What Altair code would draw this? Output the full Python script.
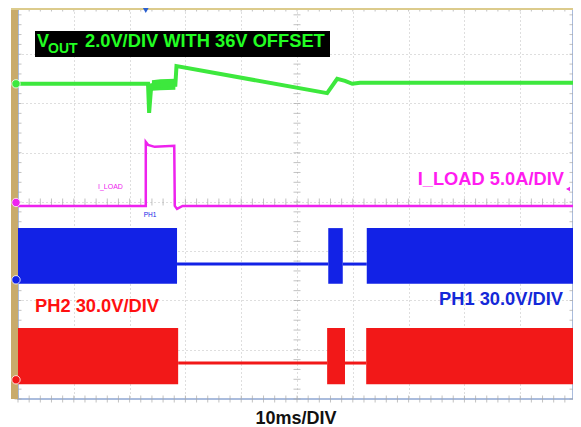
import altair as alt
import pandas as pd

# ---- data (time in ms, 10 ms/div; vertical position in screen divisions 0..8) ----
vout_t = [0, 23.3, 23.5, 23.8, 24.0, 28.2, 28.4, 55.4, 57.2, 58.6, 59.9, 61.3, 63.1, 100]
vout_v = [6.40, 6.40, 5.81, 6.25, 6.37, 6.38, 6.76, 6.21, 6.50, 6.46, 6.40, 6.42, 6.42, 6.42]

vout_band_t = [24.0, 25.5, 28.2]
vout_band_lo = [6.26, 6.27, 6.28]
vout_band_hi = [6.47, 6.49, 6.50]

iload_t = [0, 22.9, 22.9, 23.3, 24.5, 28.0, 28.1, 28.5, 29.5, 100]
iload_v = [3.92, 3.92, 5.22, 5.16, 5.12, 5.14, 3.92, 3.86, 3.92, 3.92]

ph1_on_start = [0, 55.6, 62.5]
ph1_on_end = [28.5, 58.2, 100]
ph1_idle_start = [28.5, 58.2]
ph1_idle_end = [55.6, 62.5]
ph1_levels = {"hi": 3.47, "lo": 2.34, "idle": 2.74}

ph2_on_start = [0, 55.4, 62.4]
ph2_on_end = [28.7, 58.6, 100]
ph2_idle_start = [28.7, 58.6]
ph2_idle_end = [55.4, 62.4]
ph2_levels = {"hi": 1.44, "lo": 0.30, "idle": 0.73}

channel_markers = [6.40, 3.99, 2.42, 0.39]
trigger_t = [22.9]

grid_t = [10, 20, 30, 40, 50, 60, 70, 80, 90]
grid_v = [1, 2, 3, 4, 5, 6, 7]

labels = {
    "vout_v": "V",
    "vout_sub": "OUT",
    "vout_rest": "2.0V/DIV WITH 36V OFFSET",
    "iload": "I_LOAD 5.0A/DIV",
    "ph1": "PH1 30.0V/DIV",
    "ph2": "PH2 30.0V/DIV",
    "iload_small": "I_LOAD",
    "ph1_small": "PH1",
    "xtitle": "10ms/DIV",
}

# ---- colours ----
GREEN = "#3de83d"
MAGENTA = "#ee22ee"
BLUE = "#1222e6"
RED = "#f21818"
FONT = "Liberation Sans"

# plot area (the page cannot show the last few pixels of the scope screen)
W, H = 555, 391
XMAX = round(W / 5.58, 2)     # 55.8 px per 10 ms division
YMAX = round(H / 49.25, 3)    # 49.25 px per vertical division

minor_t = [i * 2 for i in range(51) if i * 2 <= XMAX]
minor_v = [round(i * 0.2, 1) for i in range(41) if i * 0.2 <= YMAX]

xs = alt.Scale(domain=[0, XMAX], nice=False, zero=False)
ys = alt.Scale(domain=[0, YMAX], nice=False, zero=False)
x_axis = alt.Axis(values=grid_t, grid=True, labels=False, ticks=False, domain=False,
                  title=labels["xtitle"], titleFont=FONT, titleFontSize=18,
                  titleFontWeight="bold", titleColor="#111111", titlePadding=10,
                  gridColor="#bdbdbd", gridDash=[1, 3], gridWidth=1)
y_axis = alt.Axis(values=grid_v, grid=True, labels=False, ticks=False, domain=False,
                  title=None, gridColor="#bdbdbd", gridDash=[1, 3], gridWidth=1)

X = alt.X("t:Q", scale=xs, axis=x_axis)
Y = alt.Y("v:Q", scale=ys, axis=y_axis)

one = pd.DataFrame({"k": [0]})

# frame decorations
left_border = alt.Chart(one).mark_rect(color="#c9ab6b").encode(
    x=alt.value(-7), x2=alt.value(0), y=alt.value(0), y2=alt.value(H))
top_border = alt.Chart(one).mark_rule(color="#dccb8c", strokeWidth=2).encode(
    x=alt.value(-7), x2=alt.value(W), y=alt.value(1))

# minor ticks: center axes and edges
tx = pd.DataFrame([{"t": t, "v": v} for v in (0, 4, YMAX) for t in minor_t])
ty = pd.DataFrame([{"t": t, "v": v} for t in (0, 50, XMAX) for v in minor_v])
ticks_x = alt.Chart(tx).mark_tick(orient="vertical", size=7, thickness=1, color="#a8a8a8").encode(x=X, y=Y)
ticks_y = alt.Chart(ty).mark_tick(orient="horizontal", size=7, thickness=1, color="#a8a8a8").encode(x=X, y=Y)

# PH2 (red)
ph2_on = pd.DataFrame({"t": ph2_on_start, "t2": ph2_on_end,
                       "v": [ph2_levels["lo"]] * 3, "v2": [ph2_levels["hi"]] * 3})
ph2_idle = pd.DataFrame({"t": ph2_idle_start, "t2": ph2_idle_end, "v": [ph2_levels["idle"]] * 2})
ph2_band = alt.Chart(ph2_on).mark_rect(color=RED, clip=True).encode(x=X, x2="t2:Q", y=Y, y2="v2:Q")
ph2_line = alt.Chart(ph2_idle).mark_rule(color=RED, strokeWidth=3).encode(x=X, x2="t2:Q", y=Y)

# PH1 (blue)
ph1_on = pd.DataFrame({"t": ph1_on_start, "t2": ph1_on_end,
                       "v": [ph1_levels["lo"]] * 3, "v2": [ph1_levels["hi"]] * 3})
ph1_idle = pd.DataFrame({"t": ph1_idle_start, "t2": ph1_idle_end, "v": [ph1_levels["idle"]] * 2})
ph1_band = alt.Chart(ph1_on).mark_rect(color=BLUE, clip=True).encode(x=X, x2="t2:Q", y=Y, y2="v2:Q")
ph1_line = alt.Chart(ph1_idle).mark_rule(color=BLUE, strokeWidth=3).encode(x=X, x2="t2:Q", y=Y)

# I_LOAD (magenta)
iload_df = pd.DataFrame({"t": iload_t, "v": iload_v, "o": list(range(len(iload_t)))})
iload_line = alt.Chart(iload_df).mark_line(color=MAGENTA, strokeWidth=2.5, clip=True).encode(
    x=X, y=Y, order="o:Q")

# VOUT (green)
vout_df = pd.DataFrame({"t": vout_t, "v": vout_v, "o": list(range(len(vout_t)))})
vout_line = alt.Chart(vout_df).mark_line(color=GREEN, strokeWidth=4, clip=True).encode(
    x=X, y=Y, order="o:Q")
vband_df = pd.DataFrame({"t": vout_band_t, "v": vout_band_lo, "v2": vout_band_hi})
vout_band = alt.Chart(vband_df).mark_area(color=GREEN, opacity=1).encode(x=X, y=Y, y2="v2:Q")

# channel markers on left edge
mk = pd.DataFrame({"v": channel_markers, "c": ["g", "m", "b", "r"]})
markers = alt.Chart(mk).mark_point(filled=True, size=70, opacity=1, stroke="white", strokeWidth=0.8).encode(
    x=alt.value(-2), y=Y,
    color=alt.Color("c:N", scale=alt.Scale(domain=["g", "m", "b", "r"],
                                            range=[GREEN, MAGENTA, BLUE, RED]), legend=None))
trig = alt.Chart(pd.DataFrame({"t": trigger_t})).mark_point(
    shape="triangle-down", filled=True, size=45, color="#2a5fd0", opacity=1).encode(x=X, y=alt.value(2))
arrow = alt.Chart(one).mark_point(shape="triangle-left", filled=True, size=22, color=MAGENTA, opacity=1).encode(
    x=alt.value(550), y=alt.value(181))

# annotations
def txt(key, x, y, color, size, align="left", weight="bold", baseline="alphabetic"):
    return alt.Chart(pd.DataFrame({"s": [labels[key]]})).mark_text(
        align=align, baseline=baseline, font=FONT, fontSize=size, fontWeight=weight, color=color
    ).encode(x=alt.value(x), y=alt.value(y), text="s:N")

vbox = alt.Chart(one).mark_rect(color="black").encode(
    x=alt.value(17), x2=alt.value(312), y=alt.value(23), y2=alt.value(49))

texts = [
    txt("vout_v", 19, 39, "#22ff22", 18),
    txt("vout_sub", 30, 45, "#22ff22", 14),
    txt("vout_rest", 67, 39, "#22ff22", 18.3),
    txt("iload", 546, 177, "#ff1cf0", 18.3, align="right"),
    txt("ph1", 545, 297, "#1428d8", 18.3, align="right"),
    txt("ph2", 17, 304, "#ff1010", 18.3),
    txt("iload_small", 80, 181, MAGENTA, 7, weight="normal"),
    txt("ph1_small", 132, 209, BLUE, 6.5, align="center", weight="normal"),
]

chart = alt.layer(
    ticks_x, ticks_y, left_border, top_border,
    ph2_band, ph2_line, ph1_band, ph1_line, iload_line, vout_band, vout_line,
    markers, trig, arrow, vbox, *texts
).properties(
    width=W, height=H,
    autosize=alt.AutoSizeParams(type="none"),
    padding={"left": 10, "top": 0, "right": 0, "bottom": 28},
    background="white",
).configure_view(stroke="#8ea6d2", strokeWidth=1.5)

chart.save("out.html", embed_options={"renderer": "svg", "actions": False})
